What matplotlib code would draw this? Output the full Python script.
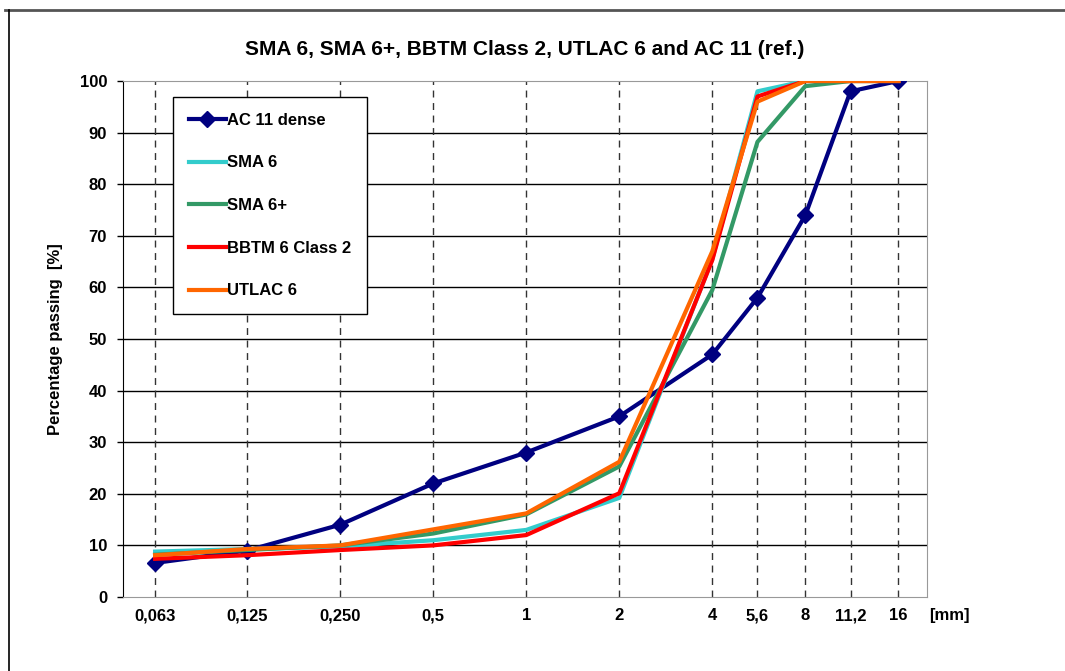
import numpy as np
import matplotlib
matplotlib.use("Agg")
import matplotlib.pyplot as plt
from matplotlib.lines import Line2D

plt.rcParams['font.family'] = ['Liberation Sans', 'DejaVu Sans']
plt.rcParams['font.weight'] = 'bold'

sieves = [0.063, 0.125, 0.25, 0.5, 1, 2, 4, 5.6, 8, 11.2, 16]
sieve_labels = ['0,063', '0,125', '0,250', '0,5', '1', '2', '4', '5,6', '8', '11,2', '16']

ac11 = [6.6, 9, 14, 22, 28, 35, 47, 58, 74, 98, 100]
sma6 = [8.8, 9.3, 9.8, 11, 13, 19.2, 65.5, 98, 100, 100, 100]
sma6p = [8.2, 9.1, 10, 12.3, 16, 25.3, 59.5, 88.2, 99, 100, 100]
bbtm6 = [7.4, 8.1, 9.1, 10, 12, 20.1, 65.3, 97, 100, 100, 100]
utlac6 = [8.1, 9.3, 10, 13.1, 16.2, 26.2, 67, 96, 100, 100, 100]

fig = plt.figure(figsize=(10.65, 6.71), dpi=100)
ax = fig.add_axes([123/1065, 1 - 597/671, (927-123)/1065, (597-81)/671])

# figure frame (top + left)
fig.add_artist(Line2D([5/1065, 1], [1 - 10/671, 1 - 10/671], color='#555555', lw=2))
fig.add_artist(Line2D([9/1065, 9/1065], [0, 1 - 10/671], color='black', lw=1.2))

ax.set_xscale('log', base=2)
ax.set_xlim(0.0496, 19.8)
ax.set_ylim(0, 100)

for y in range(10, 100, 10):
    ax.axhline(y, color='black', lw=1, zorder=1)
for s in sieves:
    ax.axvline(s, color='#333333', lw=1, ls=(0, (5, 4)), zorder=1)

ax.plot(sieves, ac11, color='#000080', lw=3, marker='D', ms=8, label='AC 11 dense', zorder=3)
ax.plot(sieves, sma6, color='#33CCCC', lw=3, label='SMA 6', zorder=3)
ax.plot(sieves, sma6p, color='#339966', lw=3, label='SMA 6+', zorder=3)
ax.plot(sieves, bbtm6, color='#FF0000', lw=3, label='BBTM 6 Class 2', zorder=3)
ax.plot(sieves, utlac6, color='#FF6600', lw=3, label='UTLAC 6', zorder=3)

ax.set_xticks(sieves)
ax.set_xticklabels(sieve_labels)
ax.xaxis.set_minor_locator(matplotlib.ticker.NullLocator())
ax.tick_params(axis='x', length=0, pad=8, labelsize=12)
ax.set_yticks(range(0, 101, 10))
ax.tick_params(axis='y', length=4.5, width=1, pad=7, labelsize=12)

for side in ['top', 'right', 'bottom']:
    ax.spines[side].set_color('#999999')
ax.spines['left'].set_color('black')

ax.set_ylabel('Percentage passing  [%]', fontsize=12, fontweight='bold', labelpad=12)
ax.set_title('SMA 6, SMA 6+, BBTM Class 2, UTLAC 6 and AC 11 (ref.)', fontsize=15,
             fontweight='bold', pad=19)
ax.text(1.0 + 2/804, -0.021, '[mm]', transform=ax.transAxes, fontsize=12, fontweight='bold',
        va='top', ha='left')

leg = ax.legend(loc='upper left', bbox_to_anchor=(50/804, 1 - 16/516), fontsize=12,
                frameon=True, fancybox=False, edgecolor='black', framealpha=1,
                labelspacing=1.66, handlelength=2.2, handletextpad=0.1,
                borderpad=0.95, borderaxespad=0)
leg.get_frame().set_linewidth(1)
leg.set_zorder(5)

fig.savefig('out.png', dpi=100)
